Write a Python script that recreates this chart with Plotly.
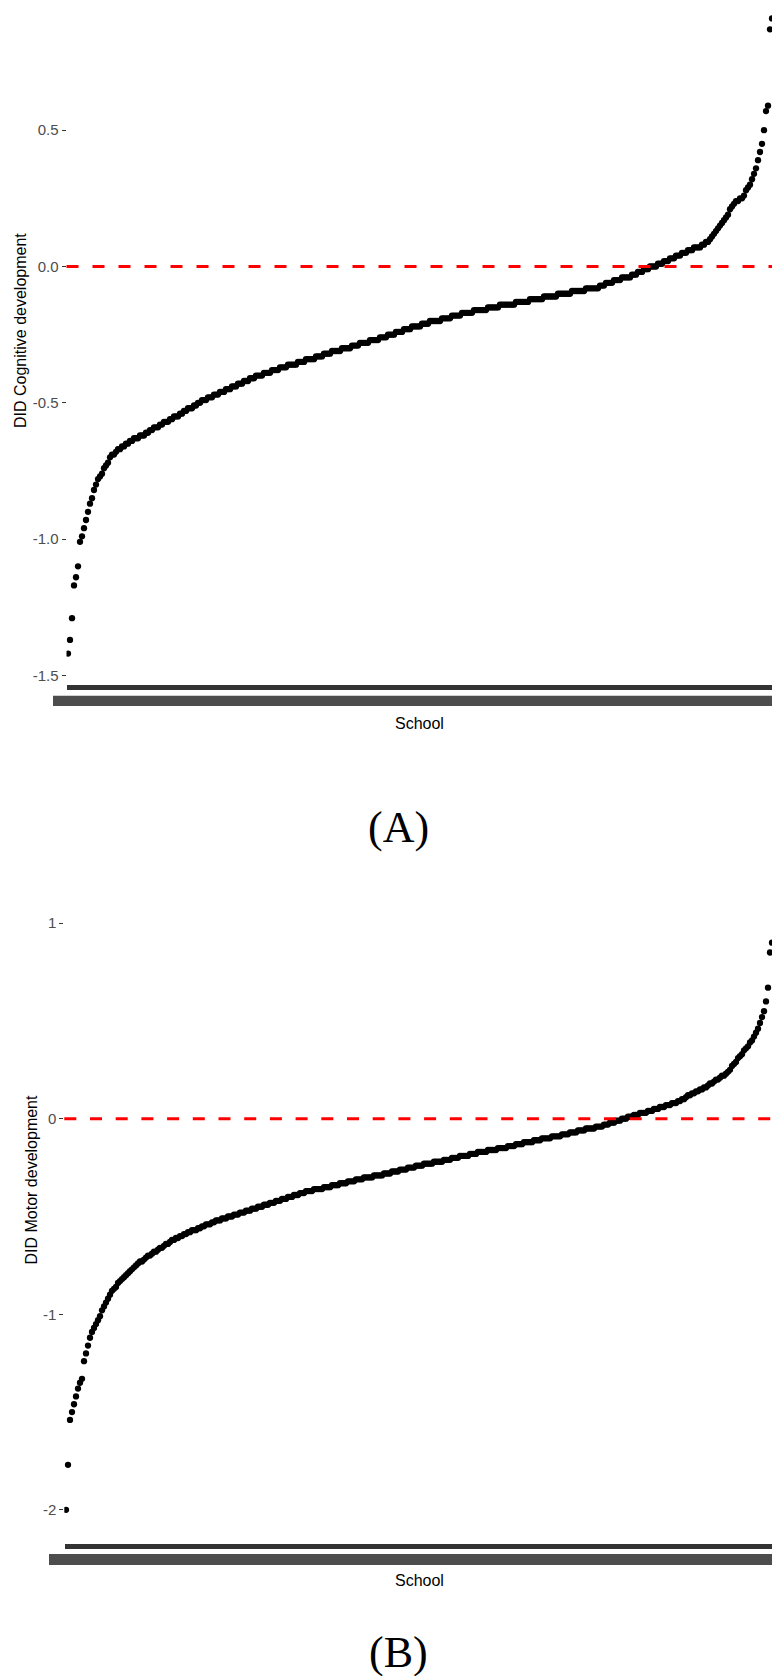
import plotly.graph_objects as go

W, H = 772, 1676

# ---- data (sorted school estimates) ----
did_cognitive = [
    -1.42, -1.37, -1.29, -1.17, -1.14, -1.10, -1.01, -0.99, -0.96, -0.93,
    -0.90, -0.87, -0.85, -0.82, -0.80, -0.78, -0.77, -0.76, -0.74, -0.73,
    -0.72, -0.70, -0.69, -0.69, -0.68, -0.67, -0.67, -0.66, -0.66, -0.65,
    -0.65, -0.64, -0.64, -0.63, -0.63, -0.63, -0.62, -0.62, -0.62, -0.61,
    -0.61, -0.60, -0.60, -0.59, -0.59, -0.59, -0.58, -0.58, -0.57, -0.57,
    -0.57, -0.56, -0.56, -0.55, -0.55, -0.55, -0.54, -0.54, -0.53, -0.53,
    -0.52, -0.52, -0.52, -0.51, -0.51, -0.50, -0.50, -0.49, -0.49, -0.49,
    -0.48, -0.48, -0.48, -0.47, -0.47, -0.47, -0.46, -0.46, -0.46, -0.45,
    -0.45, -0.45, -0.44, -0.44, -0.44, -0.43, -0.43, -0.43, -0.42, -0.42,
    -0.42, -0.41, -0.41, -0.41, -0.40, -0.40, -0.40, -0.40, -0.39, -0.39,
    -0.39, -0.39, -0.38, -0.38, -0.38, -0.38, -0.37, -0.37, -0.37, -0.37,
    -0.36, -0.36, -0.36, -0.36, -0.36, -0.35, -0.35, -0.35, -0.35, -0.34,
    -0.34, -0.34, -0.34, -0.34, -0.33, -0.33, -0.33, -0.33, -0.32, -0.32,
    -0.32, -0.32, -0.31, -0.31, -0.31, -0.31, -0.31, -0.30, -0.30, -0.30,
    -0.30, -0.30, -0.29, -0.29, -0.29, -0.29, -0.28, -0.28, -0.28, -0.28,
    -0.28, -0.27, -0.27, -0.27, -0.27, -0.27, -0.26, -0.26, -0.26, -0.26,
    -0.25, -0.25, -0.25, -0.25, -0.24, -0.24, -0.24, -0.24, -0.23, -0.23,
    -0.23, -0.23, -0.22, -0.22, -0.22, -0.22, -0.22, -0.21, -0.21, -0.21,
    -0.21, -0.20, -0.20, -0.20, -0.20, -0.20, -0.20, -0.19, -0.19, -0.19,
    -0.19, -0.19, -0.18, -0.18, -0.18, -0.18, -0.18, -0.17, -0.17, -0.17,
    -0.17, -0.17, -0.17, -0.16, -0.16, -0.16, -0.16, -0.16, -0.16, -0.16,
    -0.15, -0.15, -0.15, -0.15, -0.15, -0.15, -0.14, -0.14, -0.14, -0.14,
    -0.14, -0.14, -0.14, -0.14, -0.13, -0.13, -0.13, -0.13, -0.13, -0.13,
    -0.13, -0.12, -0.12, -0.12, -0.12, -0.12, -0.12, -0.12, -0.11, -0.11,
    -0.11, -0.11, -0.11, -0.11, -0.11, -0.10, -0.10, -0.10, -0.10, -0.10,
    -0.10, -0.10, -0.09, -0.09, -0.09, -0.09, -0.09, -0.09, -0.09, -0.08,
    -0.08, -0.08, -0.08, -0.08, -0.08, -0.08, -0.07, -0.07, -0.07, -0.06,
    -0.06, -0.06, -0.06, -0.05, -0.05, -0.05, -0.05, -0.04, -0.04, -0.04,
    -0.04, -0.04, -0.03, -0.03, -0.03, -0.02, -0.02, -0.02, -0.01, -0.01,
    -0.01, 0.00, 0.00, 0.00, 0.00, 0.01, 0.01, 0.01, 0.02, 0.02,
    0.02, 0.03, 0.03, 0.03, 0.04, 0.04, 0.04, 0.05, 0.05, 0.05,
    0.06, 0.06, 0.06, 0.07, 0.07, 0.07, 0.07, 0.08, 0.08, 0.09,
    0.09, 0.10, 0.11, 0.12, 0.13, 0.14, 0.15, 0.16, 0.17, 0.18,
    0.19, 0.21, 0.22, 0.23, 0.24, 0.24, 0.25, 0.25, 0.26, 0.28,
    0.29, 0.30, 0.32, 0.34, 0.36, 0.39, 0.42, 0.45, 0.50, 0.57,
    0.59, 0.87, 0.91,
]

did_motor = [
    -2.00, -1.77, -1.54, -1.50, -1.46, -1.42, -1.38, -1.35, -1.33, -1.24,
    -1.20, -1.16, -1.12, -1.09, -1.07, -1.05, -1.03, -1.01, -0.98, -0.96,
    -0.94, -0.92, -0.90, -0.88, -0.87, -0.86, -0.84, -0.83, -0.82, -0.81,
    -0.80, -0.79, -0.78, -0.77, -0.76, -0.75, -0.74, -0.73, -0.73, -0.72,
    -0.71, -0.70, -0.70, -0.69, -0.68, -0.68, -0.67, -0.66, -0.66, -0.65,
    -0.64, -0.64, -0.63, -0.62, -0.62, -0.61, -0.61, -0.60, -0.60, -0.59,
    -0.59, -0.58, -0.58, -0.57, -0.57, -0.57, -0.56, -0.56, -0.55, -0.55,
    -0.54, -0.54, -0.54, -0.53, -0.53, -0.52, -0.52, -0.52, -0.51, -0.51,
    -0.51, -0.50, -0.50, -0.50, -0.49, -0.49, -0.49, -0.48, -0.48, -0.48,
    -0.47, -0.47, -0.47, -0.46, -0.46, -0.46, -0.45, -0.45, -0.45, -0.44,
    -0.44, -0.44, -0.43, -0.43, -0.43, -0.42, -0.42, -0.42, -0.41, -0.41,
    -0.41, -0.40, -0.40, -0.40, -0.39, -0.39, -0.39, -0.38, -0.38, -0.38,
    -0.37, -0.37, -0.37, -0.37, -0.36, -0.36, -0.36, -0.36, -0.36, -0.35,
    -0.35, -0.35, -0.35, -0.34, -0.34, -0.34, -0.34, -0.33, -0.33, -0.33,
    -0.33, -0.32, -0.32, -0.32, -0.32, -0.31, -0.31, -0.31, -0.31, -0.30,
    -0.30, -0.30, -0.30, -0.30, -0.29, -0.29, -0.29, -0.29, -0.29, -0.28,
    -0.28, -0.28, -0.28, -0.27, -0.27, -0.27, -0.27, -0.26, -0.26, -0.26,
    -0.26, -0.25, -0.25, -0.25, -0.25, -0.24, -0.24, -0.24, -0.24, -0.23,
    -0.23, -0.23, -0.23, -0.23, -0.22, -0.22, -0.22, -0.22, -0.22, -0.21,
    -0.21, -0.21, -0.21, -0.20, -0.20, -0.20, -0.20, -0.19, -0.19, -0.19,
    -0.19, -0.19, -0.18, -0.18, -0.18, -0.18, -0.17, -0.17, -0.17, -0.17,
    -0.17, -0.16, -0.16, -0.16, -0.16, -0.16, -0.15, -0.15, -0.15, -0.15,
    -0.15, -0.14, -0.14, -0.14, -0.14, -0.13, -0.13, -0.13, -0.13, -0.12,
    -0.12, -0.12, -0.12, -0.12, -0.11, -0.11, -0.11, -0.11, -0.10, -0.10,
    -0.10, -0.10, -0.10, -0.09, -0.09, -0.09, -0.09, -0.09, -0.08, -0.08,
    -0.08, -0.08, -0.07, -0.07, -0.07, -0.07, -0.06, -0.06, -0.06, -0.06,
    -0.05, -0.05, -0.05, -0.05, -0.05, -0.04, -0.04, -0.04, -0.04, -0.03,
    -0.03, -0.03, -0.02, -0.02, -0.02, -0.01, -0.01, -0.01, 0.00, 0.00,
    0.00, 0.01, 0.01, 0.01, 0.02, 0.02, 0.02, 0.03, 0.03, 0.03,
    0.03, 0.04, 0.04, 0.04, 0.05, 0.05, 0.05, 0.06, 0.06, 0.06,
    0.07, 0.07, 0.07, 0.08, 0.08, 0.08, 0.09, 0.09, 0.10, 0.10,
    0.11, 0.12, 0.12, 0.13, 0.13, 0.14, 0.14, 0.15, 0.15, 0.16,
    0.16, 0.17, 0.18, 0.18, 0.19, 0.20, 0.20, 0.21, 0.22, 0.22,
    0.23, 0.24, 0.25, 0.27, 0.28, 0.29, 0.31, 0.32, 0.33, 0.35,
    0.36, 0.37, 0.39, 0.40, 0.42, 0.44, 0.46, 0.49, 0.52, 0.55,
    0.60, 0.67, 0.85, 0.90,
]

school_a = list(range(1, len(did_cognitive) + 1))
school_b = list(range(1, len(did_motor) + 1))

ytick_a_vals = [-1.5, -1.0, -0.5, 0.0, 0.5]
ytick_a_text = ["-1.5", "-1.0", "-0.5", "0.0", "0.5"]
ytick_b_vals = [-2, -1, 0, 1]
ytick_b_text = ["-2", "-1", "0", "1"]

FONT = "Liberation Sans, Arial, sans-serif"
SERIF = "Liberation Serif, Times New Roman, serif"


def px_x(p):
    return p / W


def px_y(p):
    return 1 - p / H


fig = go.Figure()

fig.add_trace(go.Scatter(
    x=school_a, y=did_cognitive, mode="markers",
    marker=dict(size=6.3, color="black"),
    xaxis="x", yaxis="y", showlegend=False, hoverinfo="skip"))

fig.add_trace(go.Scatter(
    x=school_b, y=did_motor, mode="markers",
    marker=dict(size=6.3, color="black"),
    xaxis="x2", yaxis="y2", showlegend=False, hoverinfo="skip"))

xcommon = dict(showgrid=False, zeroline=False, showline=False,
               tickmode="array", showticklabels=False,
               ticks="outside", ticklen=5, tickwidth=2, tickcolor="#333333")
ycommon = dict(showgrid=False, zeroline=False, showline=False,
               tickmode="array", ticks="outside", ticklen=4, tickwidth=1,
               tickcolor="#333333",
               tickfont=dict(family=FONT, size=15, color="#4d4d4d"))

fig.update_layout(
    width=W, height=H,
    margin=dict(l=0, r=0, t=0, b=0, pad=0),
    paper_bgcolor="white", plot_bgcolor="white",
    xaxis=dict(domain=[px_x(66.5), 1], range=[0.25, 353.0],
               tickvals=school_a, anchor="y", **xcommon),
    yaxis=dict(domain=[px_y(684), 1], range=[-1.5316, 0.9776],
               tickvals=ytick_a_vals, ticktext=ytick_a_text, anchor="x",
               **ycommon),
    xaxis2=dict(domain=[px_x(64.3), 1], range=[0.15, 354.0],
                tickvals=school_b, anchor="y2", **xcommon),
    yaxis2=dict(domain=[px_y(1542.7), px_y(895)], range=[-2.168, 1.144],
                tickvals=ytick_b_vals, ticktext=ytick_b_text, anchor="x2",
                **ycommon),
)

shapes = [
    # zero reference lines
    dict(type="line", xref="x domain", yref="y", x0=0, x1=1, y0=0, y1=0,
         line=dict(color="#ff0000", width=3, dash="12px,14px"), layer="above"),
    dict(type="line", xref="x2 domain", yref="y2", x0=0, x1=1, y0=0, y1=0,
         line=dict(color="#ff0000", width=3, dash="12px,13.7px"), layer="above"),
    # overlapping school tick labels (illegible band)
    dict(type="rect", xref="paper", yref="paper",
         x0=px_x(53), x1=1, y0=px_y(706), y1=px_y(695.7),
         fillcolor="#4d4d4d", line=dict(width=0)),
    dict(type="rect", xref="paper", yref="paper",
         x0=px_x(49), x1=1, y0=px_y(1565), y1=px_y(1554),
         fillcolor="#4d4d4d", line=dict(width=0)),
]
fig.update_layout(shapes=shapes)

annotations = [
    dict(text="DID Cognitive development", x=px_x(20), y=px_y(331),
         textangle=-90, font=dict(family=FONT, size=16, color="black")),
    dict(text="DID Motor development", x=px_x(31), y=px_y(1179.5),
         textangle=-90, font=dict(family=FONT, size=16, color="black")),
    dict(text="School", x=px_x(419), y=px_y(723),
         font=dict(family=FONT, size=16, color="black")),
    dict(text="School", x=px_x(419), y=px_y(1580.4),
         font=dict(family=FONT, size=16, color="black")),
    dict(text="(A)", x=px_x(398), y=px_y(828),
         font=dict(family=SERIF, size=44, color="black")),
    dict(text="(B)", x=px_x(398), y=px_y(1652),
         font=dict(family=SERIF, size=44, color="black")),
]
for a in annotations:
    a.update(xref="paper", yref="paper", xanchor="center", yanchor="middle",
             showarrow=False)
fig.update_layout(annotations=annotations)

fig.write_html("out.html")
